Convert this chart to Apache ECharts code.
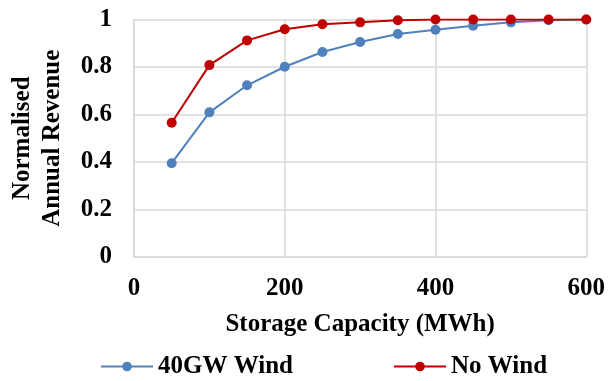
<!DOCTYPE html>
<html><head><meta charset="utf-8">
<script src="https://cdn.jsdelivr.net/npm/echarts@6/dist/echarts.min.js"></script>
<style>html,body{margin:0;padding:0;background:#fff}#c{width:608px;height:381px}</style>
</head><body><div id="c"></div>
<script>
var capacity = [50, 100, 150, 200, 250, 300, 350, 400, 450, 500, 550, 600];
var wind40 = [0.395, 0.609, 0.723, 0.801, 0.863, 0.905, 0.939, 0.957, 0.974, 0.988, 0.997, 1.0];
var noWind = [0.565, 0.808, 0.912, 0.959, 0.980, 0.988, 0.997, 1.0, 1.0, 1.0, 1.0, 1.0];
var seriesNames = ['40GW Wind', 'No Wind'];
var xTitle = 'Storage Capacity (MWh)';
var yTitle = 'Normalised\nAnnual Revenue';

function pairs(xs, ys){ return xs.map(function(x,i){ return [x, ys[i]]; }); }
var font = 'Liberation Serif, Times New Roman, serif';
var chart = echarts.init(document.getElementById('c'), null, {renderer:'canvas'});
chart.setOption({
  animation:false,
  backgroundColor:'#fff',
  grid:{left:132, right:21, top:19.5, bottom:124, containLabel:false},
  xAxis:{type:'value', min:0, max:600, interval:200,
    name:xTitle, nameLocation:'middle', nameGap:55,
    nameTextStyle:{fontFamily:font, fontWeight:'bold', fontSize:25, color:'#000'},
    axisLine:{show:true, lineStyle:{color:'#d9d9d9', width:1.5}},
    axisTick:{show:false},
    splitLine:{show:true, lineStyle:{color:'#d9d9d9', width:1.5}},
    axisLabel:{fontFamily:font, fontWeight:'bold', fontSize:25, color:'#000', margin:19}
  },
  yAxis:{type:'value', min:0, max:1, interval:0.2,
    name:yTitle, nameLocation:'middle', nameGap:66,
    nameTextStyle:{fontFamily:font, fontWeight:'bold', fontSize:25, color:'#000', lineHeight:30},
    axisLine:{show:true, lineStyle:{color:'#d9d9d9', width:1.5}},
    axisTick:{show:false},
    splitLine:{show:true, lineStyle:{color:'#d9d9d9', width:1.5}},
    axisLabel:{fontFamily:font, fontWeight:'bold', fontSize:25, color:'#000', margin:22,
      formatter:function(v){ return String(Math.round(v*10)/10); }}
  },
  legend:[
    {data:[seriesNames[0]], left:100, top:354, padding:0, itemWidth:52, itemHeight:12, itemGap:6,
     textStyle:{fontFamily:font, fontWeight:'bold', fontSize:25, color:'#000'}},
    {data:[seriesNames[1]], left:393, top:354, padding:0, itemWidth:52, itemHeight:12, itemGap:6,
     textStyle:{fontFamily:font, fontWeight:'bold', fontSize:25, color:'#000'}}
  ],
  series:[
    {name:seriesNames[0], type:'line', data:pairs(capacity, wind40), symbol:'circle', symbolSize:10,
     itemStyle:{color:'#4f81bd'}, lineStyle:{color:'#4f81bd', width:2}},
    {name:seriesNames[1], type:'line', data:pairs(capacity, noWind), symbol:'circle', symbolSize:10,
     itemStyle:{color:'#c00000'}, lineStyle:{color:'#c00000', width:2}}
  ]
});
</script></body></html>
